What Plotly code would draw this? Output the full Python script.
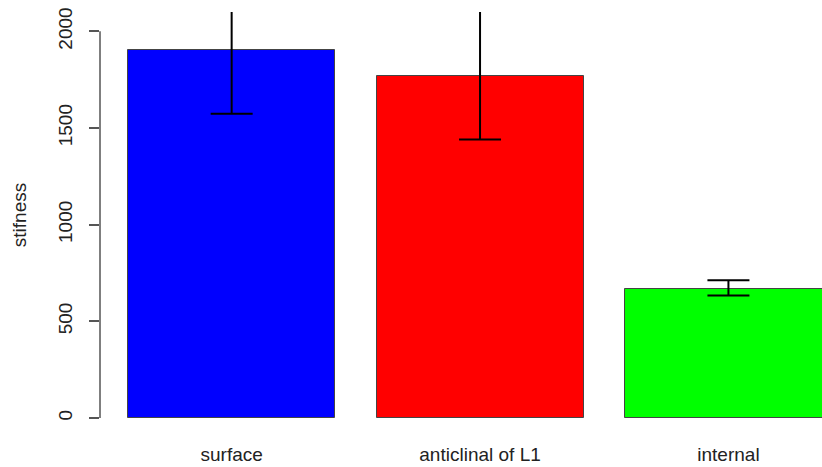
import plotly.graph_objects as go

categories = ["surface", "anticlinal of L1", "internal"]
means = [1905, 1771, 667]
errors_plus = [331, 340, 45]
errors_minus = [331, 331, 33]
colors = ["#0000FF", "#FF0000", "#00FF00"]
y_ticks = [0, 500, 1000, 1500, 2000]

# R barplot positions (space=0.2, width=1)
x_pos = [0.7 + 1.2 * i for i in range(len(categories))]

fig = go.Figure()
fig.add_trace(go.Bar(
    x=x_pos, y=means, width=1.0,
    marker=dict(color=colors, line=dict(color="#444444", width=1)),
    error_y=dict(type="data", symmetric=False, array=errors_plus,
                 arrayminus=errors_minus, visible=True, color="black",
                 thickness=2, width=21),
    showlegend=False,
))

fig.add_shape(type="line", xref="paper", yref="y", x0=0, x1=0,
              y0=y_ticks[0], y1=y_ticks[-1], line=dict(color="#555555", width=1.5))

font = "Liberation Sans, Arial, sans-serif"
fig.update_layout(
    width=822, height=467,
    margin=dict(l=100, r=0, t=12, b=49),
    plot_bgcolor="white", paper_bgcolor="white",
    font=dict(family=font, size=19, color="#222222"),
    bargap=0,
    xaxis=dict(range=[0.064, 3.552], showgrid=False, zeroline=False, showline=False,
               tickvals=x_pos, ticktext=categories, ticks="", ticklabelstandoff=23,
               tickfont=dict(size=19), automargin=False),
    yaxis=dict(range=[0, 2100], showgrid=False, zeroline=False, showline=False,
               tickvals=y_ticks, ticktext=[str(v) for v in y_ticks],
               ticks="outside", ticklen=10, tickcolor="#555555", tickwidth=1.5,
               tickangle=-90, tickfont=dict(size=19), ticklabelstandoff=9,
               automargin=False,
               title=dict(text="stifness", font=dict(size=19), standoff=23)),
)

fig.write_html("out.html", config={"displayModeBar": False},
               post_script="document.body.style.margin='0';document.body.style.padding='0';")
